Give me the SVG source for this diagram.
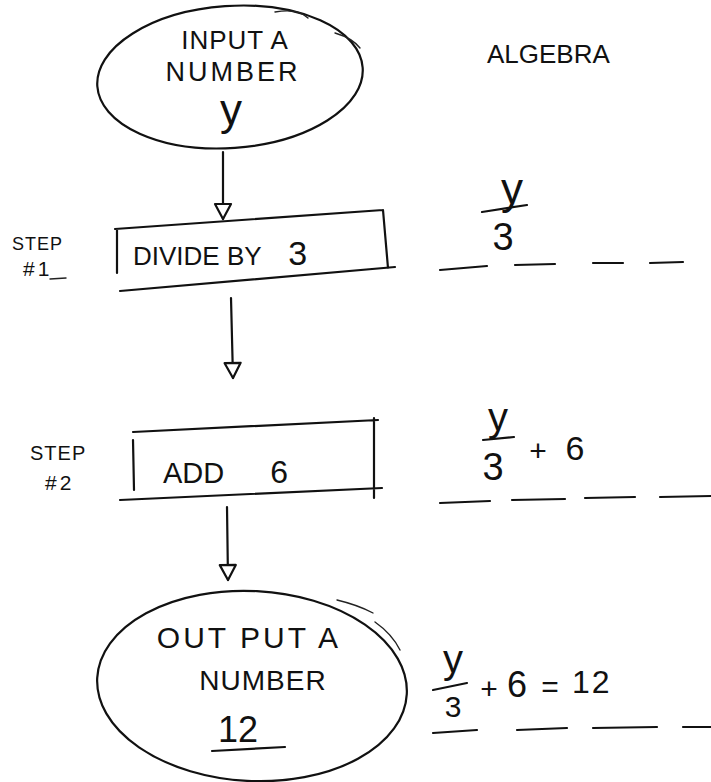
<svg xmlns="http://www.w3.org/2000/svg" width="711" height="782" viewBox="0 0 711 782">
<style>
.ink{fill:none;stroke:#111;stroke-width:2.2;stroke-linecap:round;stroke-linejoin:round}
.thin{fill:none;stroke:#222;stroke-width:1.4;stroke-linecap:round}
.t{font-family:"Liberation Sans","DejaVu Sans",sans-serif;fill:#111}
.m{text-anchor:middle}
</style>
<defs>
<marker id="ah" markerUnits="userSpaceOnUse" markerWidth="22" markerHeight="22" viewBox="-17 -11 22 22" refX="0" refY="0" orient="auto">
<path d="M0,0 L-15,-8 L-15,8 Z" fill="#fff" stroke="#111" stroke-width="2.2" stroke-linejoin="round"/>
</marker>
</defs>
<rect width="711" height="782" fill="#fff"/>

<g id="input">
<ellipse class="ink" cx="230" cy="77" rx="133" ry="71" transform="rotate(-4 230 77)"/>
<path class="thin" d="M275,12 Q298,8 308,18 M335,33 Q352,38 360,48"/>
<text class="t m" x="235" y="49" font-size="26" letter-spacing="1">INPUT A</text>
<text class="t m" x="233" y="81" font-size="27" letter-spacing="3">NUMBER</text>
<text class="t m" x="231" y="125" font-size="44">y</text>
</g>

<g id="algebra">
<text class="t" x="487" y="63" font-size="26">ALGEBRA</text>
</g>

<g id="step1label">
<text class="t" x="12" y="250" font-size="18" letter-spacing="1">STEP</text>
<text class="t" x="23" y="276" font-size="21" letter-spacing="3">#1</text>
<path class="thin" d="M50,279 L66,278"/>
</g>

<g id="step1">
<path class="ink" d="M115,229 L383,210 M383,210 L388,268 M120,291 L395,267 M117,229 L117,273"/>
<text class="t" x="133" y="265" font-size="26">DIVIDE BY <tspan dx="20" font-size="34">3</tspan></text>
</g>

<g id="alg1">
<text class="t m" x="512" y="204" font-size="44">y</text>
<path class="ink" d="M482,212 L527,205"/>
<text class="t m" x="503" y="250" font-size="38">3</text>
<path class="ink" d="M440,270 L487,266 M515,265 L555,264 M593,263 L623,263 M650,263 L683,262"/>
</g>

<g id="step2label">
<text class="t" x="30" y="460" font-size="20" letter-spacing="1">STEP</text>
<text class="t" x="45" y="490" font-size="21" letter-spacing="3">#2</text>
</g>

<g id="step2">
<path class="ink" d="M133,432 L378,420 M374,418 L374,498 M120,500 L382,488 M133,440 L134,490"/>
<text class="t" x="163" y="483" font-size="29">ADD <tspan dx="38" font-size="32">6</tspan></text>
</g>

<g id="alg2">
<text class="t m" x="498" y="431" font-size="40">y</text>
<path class="ink" d="M483,440 L514,437"/>
<text class="t m" x="493" y="480" font-size="38">3</text>
<text class="t m" x="538" y="461" font-size="30">+</text>
<text class="t m" x="575" y="460" font-size="34">6</text>
<path class="ink" d="M440,503 L490,501 M512,500 L565,499 M585,498 L635,497 M660,497 L711,496"/>
</g>

<g id="output">
<ellipse class="ink" cx="252" cy="686" rx="155" ry="95" transform="rotate(3 252 686)"/>
<path class="thin" d="M337,600 Q358,605 373,613 M375,622 Q392,634 400,650"/>
<text class="t m" x="249" y="648" font-size="30" letter-spacing="3">OUT PUT A</text>
<text class="t m" x="263" y="690" font-size="28" letter-spacing="1">NUMBER</text>
<text class="t" x="218" y="742" font-size="36">12</text>
<path class="ink" d="M212,751 L285,747"/>
</g>

<g id="alg3">
<text class="t m" x="453" y="673" font-size="40">y</text>
<path class="ink" d="M433,690 L467,683"/>
<text class="t m" x="453" y="717" font-size="30">3</text>
<text class="t m" x="489" y="699" font-size="30">+</text>
<text class="t m" x="517" y="697" font-size="36">6</text>
<text class="t m" x="550" y="697" font-size="30">=</text>
<text class="t" x="572" y="693" font-size="32" letter-spacing="2">12</text>
<path class="ink" d="M433,733 L477,730 M517,730 L567,728 M593,728 L657,727 M683,727 L711,727"/>
</g>

<g id="connectors">
<path class="ink" d="M223,152 L223,219" marker-end="url(#ah)"/>
<path class="ink" d="M231,298 L233,378" marker-end="url(#ah)"/>
<path class="ink" d="M227,507 L228,580" marker-end="url(#ah)"/>
</g>
</svg>
